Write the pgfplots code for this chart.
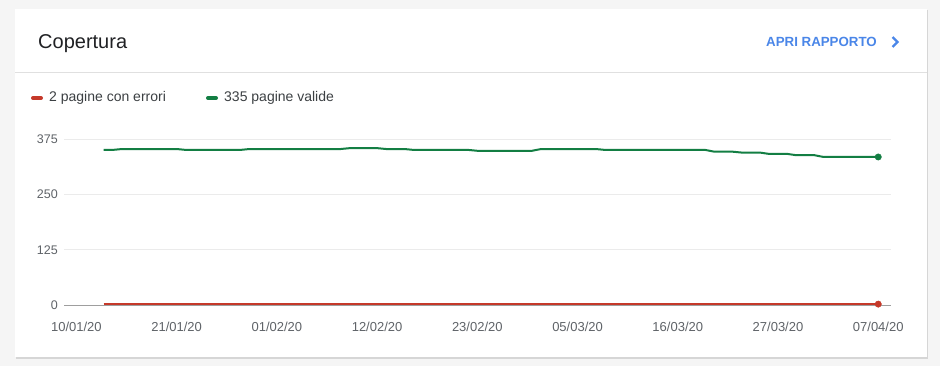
\documentclass[border=0pt]{standalone}
\usepackage{pgfplots}
\pgfplotsset{compat=1.18}
\usepackage{fontspec}
\setmainfont{Liberation Sans}
\definecolor{bg}{HTML}{F5F5F5}
\definecolor{gridc}{HTML}{EBEBEB}
\definecolor{zeroc}{HTML}{9E9E9E}
\definecolor{ticktxt}{HTML}{5F6368}
\definecolor{titletxt}{HTML}{202124}
\definecolor{legtxt}{HTML}{3C4043}
\definecolor{errred}{HTML}{C5392A}
\definecolor{validgreen}{HTML}{137E43}
\definecolor{linkblue}{HTML}{4A86E8}
\definecolor{divider}{HTML}{E0E0E0}
\pgfplotstableread{
day val
3 351
4 351
5 353
6 353
7 353
8 353
9 353
10 353
11 353
12 351
13 351
14 351
15 351
16 351
17 351
18 351
19 353
20 353
21 353
22 353
23 353
24 353
25 353
26 353
27 353
28 353
29 353
30 355
31 355
32 355
33 355
34 353
35 353
36 353
37 351
38 351
39 351
40 351
41 351
42 351
43 351
44 349
45 349
46 349
47 349
48 349
49 349
50 349
51 353
52 353
53 353
54 353
55 353
56 353
57 353
58 351
59 351
60 351
61 351
62 351
63 351
64 351
65 351
66 351
67 351
68 351
69 351
70 347
71 347
72 347
73 345
74 345
75 345
76 342
77 342
78 342
79 339
80 339
81 339
82 335
83 335
84 335
85 335
86 335
87 335
88 335
}\validtable
\pgfplotstableread{
day val
3 2
88 2
}\errtable
\begin{document}
\begin{tikzpicture}
\fill[bg] (0pt,0pt) rectangle (940pt,-366pt);
\fill[black!16] (15.5pt,-10pt) rectangle (927.5pt,-358.5pt);
\fill[white] (15pt,-9pt) rectangle (926.5pt,-357pt);
\draw[divider, line width=1pt] (15pt,-72.5pt) -- (926.5pt,-72.5pt);
\node[anchor=base west, text=titletxt, font=\fontsize{20}{24}\selectfont, inner sep=0pt] at (38pt,-49pt) {Copertura};
\node[anchor=base west, text=linkblue, font=\bfseries\fontsize{13.3}{16}\selectfont, inner sep=0pt] at (766pt,-47pt) {APRI RAPPORTO};
\draw[linkblue, line width=2.4pt] (892.5pt,-37pt) -- (897.5pt,-42pt) -- (892.5pt,-47pt);
\draw[errred, line width=4pt, line cap=round] (33pt,-98pt) -- (41pt,-98pt);
\node[anchor=base west, text=legtxt, font=\fontsize{14}{16}\selectfont, inner sep=0pt] at (49pt,-102pt) {2 pagine con errori};
\draw[validgreen, line width=4pt, line cap=round] (208pt,-98pt) -- (216pt,-98pt);
\node[anchor=base west, text=legtxt, font=\fontsize{14}{16}\selectfont, inner sep=0pt] at (224pt,-102pt) {335 pagine valide};
\begin{axis}[
  at={(64pt,-305pt)}, anchor=south west,
  width=827pt, height=165.7pt, scale only axis,
  xmin=-1.36, xmax=89.4, ymin=0, ymax=375,
  axis line style={draw=none},
  tick style={draw=none},
  xtick={0,11,22,33,44,55,66,77,88},
  xticklabels={10/01/20,21/01/20,01/02/20,12/02/20,23/02/20,05/03/20,16/03/20,27/03/20,07/04/20},
  ytick={0,125,250,375},
  ymajorgrids, grid style={gridc, line width=0.8pt},
  ticklabel style={font=\fontsize{12.5}{14}\selectfont, text=ticktxt, inner sep=0pt},
  /pgf/number format/assume math mode=true,
  xticklabel style={anchor=base, yshift=-26.5pt, font=\fontsize{13}{15}\selectfont},
  yticklabel style={anchor=east, xshift=-6pt},
  clip=false,
]
\draw[zeroc, line width=0.8pt] (axis cs:-1.36,0) -- (axis cs:89.4,0);
\addplot[validgreen, line width=2pt, line join=round, mark=none] table[x=day, y=val] {\validtable};
\addplot[errred, line width=2pt, mark=none] table[x=day, y=val] {\errtable};
\addplot[only marks, mark=*, mark size=3.2pt, validgreen] coordinates {(88,335)};
\addplot[only marks, mark=*, mark size=3.2pt, errred] coordinates {(88,2)};
\end{axis}
\end{tikzpicture}
\end{document}
